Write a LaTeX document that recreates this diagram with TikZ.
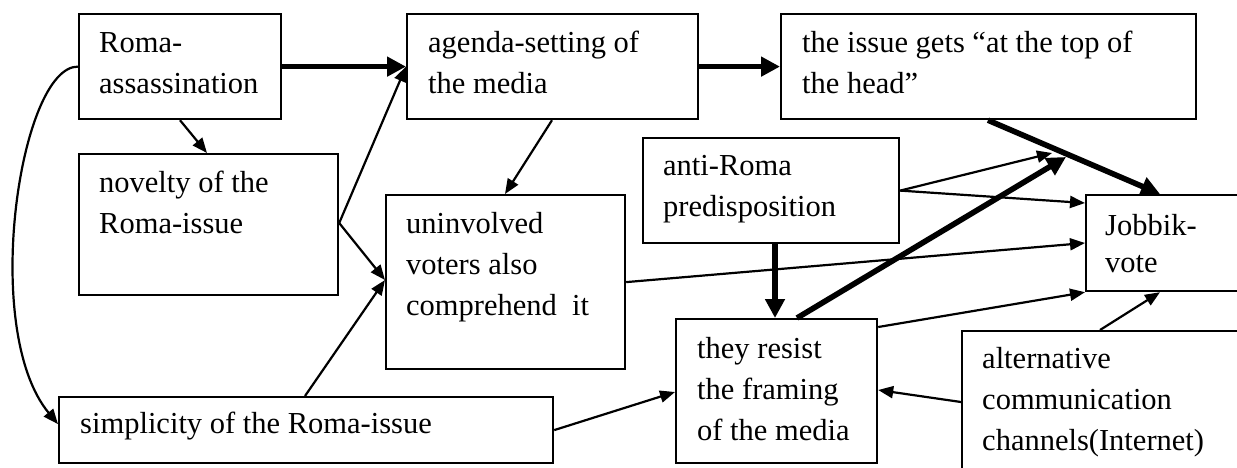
\documentclass[tikz,border=0pt]{standalone}
\usepackage{fontspec}
\setmainfont{Liberation Serif}
\usetikzlibrary{arrows.meta}
\newcommand\boxlines[1]{\begin{tabular}[t]{@{}l@{}}#1\end{tabular}}
\tikzset{
  box/.style={draw, line width=2.2pt, anchor=north west, inner sep=0pt, rectangle},
  txt/.style={anchor=base west, inner sep=0pt, font=\fontsize{30.5}{41}\selectfont},
  thin arrow/.style={line width=2.2pt, -{Triangle[length=15pt,width=12pt]}},
  thick arrow/.style={line width=5.6pt, -{Triangle[length=19pt,width=19pt]}},
}
\begin{document}
\begin{tikzpicture}[x=1pt,y=-1pt]
\clip (0,0) rectangle (1237,467);
% boxes
\node[box, minimum width=202pt, minimum height=105pt] (roma) at (78,13) {};
\node[box, minimum width=259pt, minimum height=141pt] (novelty) at (78,153) {};
\node[box, minimum width=291pt, minimum height=105pt] (agenda) at (406,13) {};
\node[box, minimum width=415pt, minimum height=105pt] (issue) at (780,13) {};
\node[box, minimum width=256pt, minimum height=105pt] (anti) at (642,137) {};
\node[box, minimum width=239pt, minimum height=174pt] (unin) at (385,194) {};
\node[box, minimum width=180pt, minimum height=96pt] (jobbik) at (1085,194) {};
\node[box, minimum width=201pt, minimum height=144pt] (resist) at (675,318) {};
\node[box, minimum width=494pt, minimum height=66pt] (simpl) at (58,396) {};
\node[box, minimum width=300pt, minimum height=170pt] (alt) at (961,330) {};
% texts
\node[txt] (romat) at (99,52) {\boxlines{Roma-\\assassination}};
\node[txt] (noveltyt) at (99,192) {\boxlines{novelty of the\\Roma-issue}};
\node[txt] (agendat) at (428,52) {\boxlines{agenda-setting of\\the media}};
\node[txt] (issuet) at (802,52) {\boxlines{the issue gets “at the top of\\the head”}};
\node[txt] (antit) at (663,175) {\boxlines{anti-Roma\\predisposition}};
\node[txt] (unint) at (406,233) {\boxlines{uninvolved\\voters also\\comprehend\ \ it}};
\node[txt, font=\fontsize{30.5}{37}\selectfont] (jobbikt) at (1105,235) {\boxlines{Jobbik-\\vote}};
\node[txt] (resistt) at (697,358) {\boxlines{they resist\\the framing\\of the media}};
\node[txt] (simplt) at (80,433) {\boxlines{simplicity of the Roma-issue}};
\node[txt] (altt) at (982,368) {\boxlines{alternative\\communication\\channels(Internet)}};
% meeting points near the thick line
\coordinate (m1) at (1052,153);
\coordinate (m2) at (1066,157);
% thick arrows
\draw[thick arrow] (roma.east) -- (agenda.west);
\draw[thick arrow] (agenda.east) -- (issue.west);
\draw[thick arrow] ([xshift=208pt]issue.south west) -- ([xshift=75pt]jobbik.north west);
\draw[thick arrow] ([xshift=133pt]anti.south west) -- ([xshift=100pt]resist.north west);
\draw[thick arrow] ([xshift=122pt]resist.north west) -- (m2);
% thin arrows
\draw[thin arrow] ([xshift=102pt]roma.south west) -- ([xshift=129pt]novelty.north west);
\draw[thin arrow] ([yshift=-70pt]novelty.north east) -- (agenda.west);
\draw[thin arrow] ([yshift=-70pt]novelty.north east) -- ([yshift=-86pt]unin.north west);
\draw[thin arrow] ([xshift=146pt]agenda.south west) -- ([xshift=120pt]unin.north west);
\draw[thin arrow] ([xshift=247pt]simpl.north west) -- ([yshift=-86pt]unin.north west);
\draw[thin arrow] (simpl.east) -- ([yshift=-74pt]resist.north west);
\draw[thin arrow] (anti.east) -- (m1);
\draw[thin arrow] (anti.east) -- ([yshift=-9pt]jobbik.north west);
\draw[thin arrow] (unin.east) -- ([yshift=-49pt]jobbik.north west);
\draw[thin arrow] ([yshift=-9pt]resist.north east) -- (jobbik.south west);
\draw[thin arrow] ([xshift=139pt]alt.north west) -- ([xshift=75pt]jobbik.south west);
\draw[thin arrow] ([yshift=-72pt]alt.north west) -- ([yshift=-72pt]resist.north east);
\draw[thin arrow] (roma.west) .. controls (20,66) and (-20,330) .. ([yshift=6pt]simpl.west);
\end{tikzpicture}
\end{document}
